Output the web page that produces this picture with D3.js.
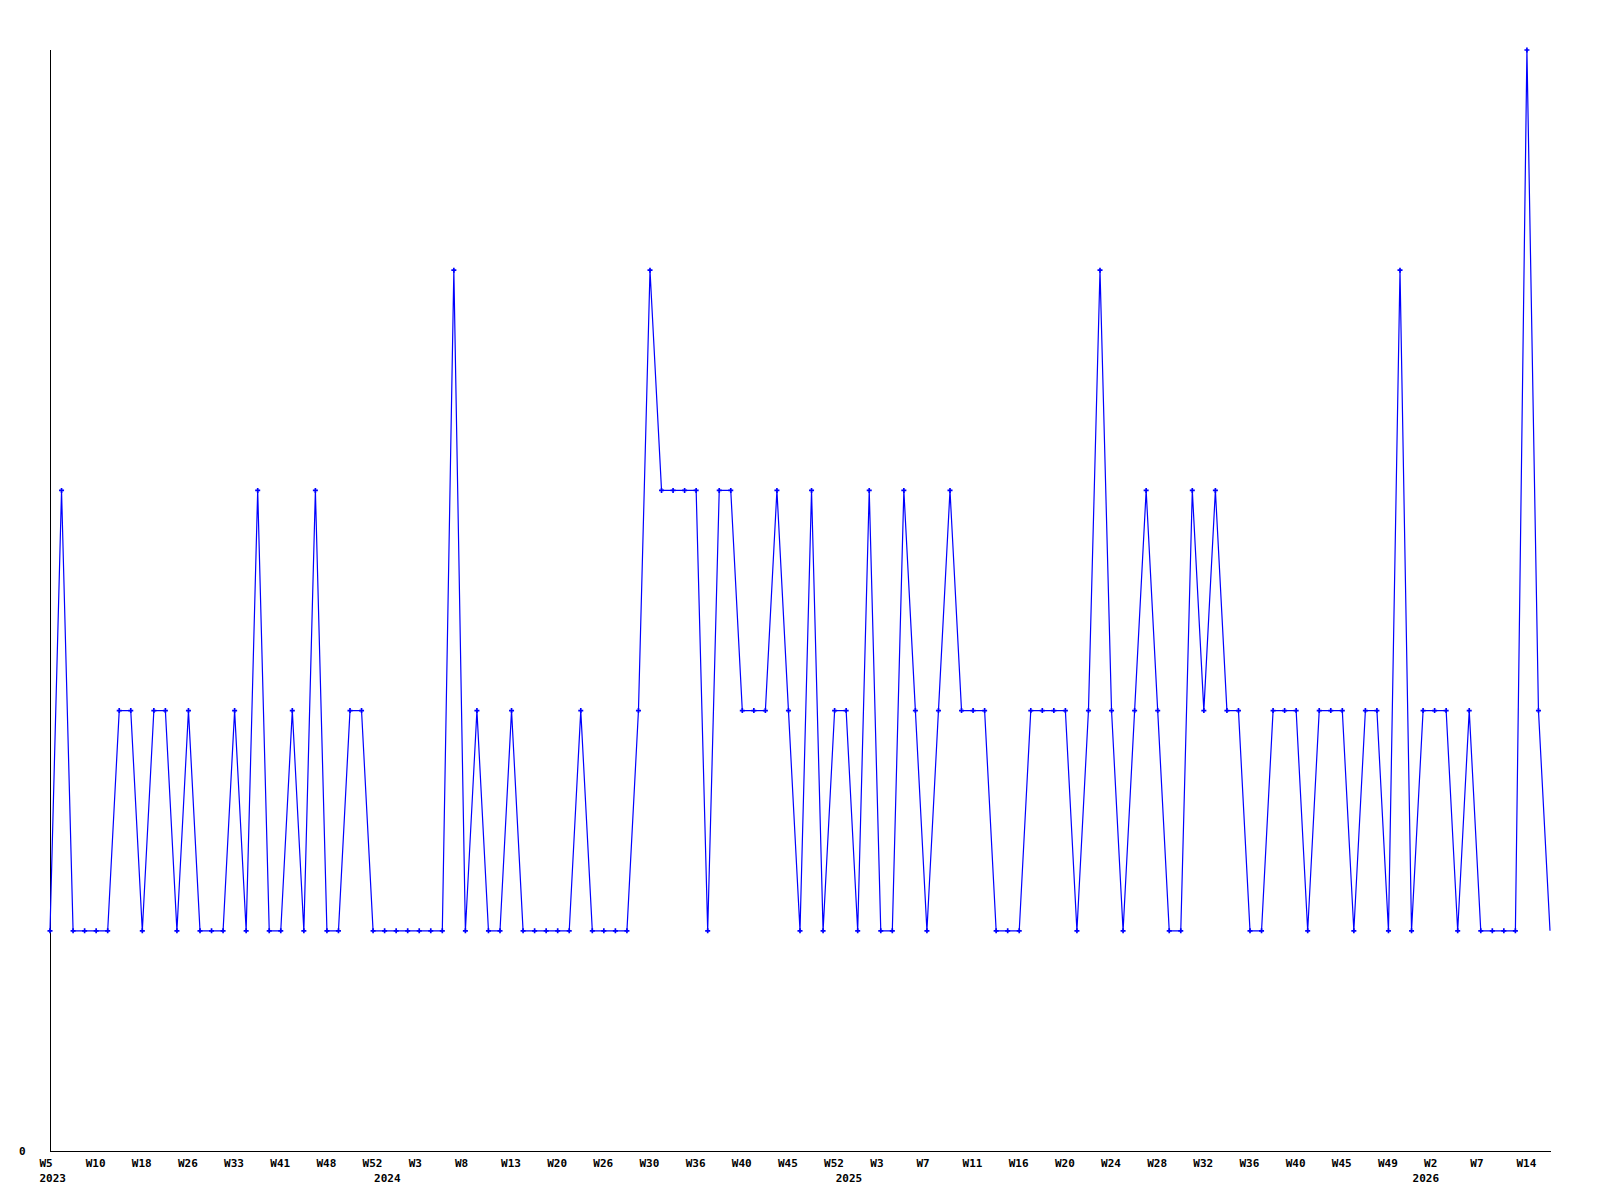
<!DOCTYPE html>
<html lang="en">
<head>
    <meta charset="UTF-8"/>
    <title>Weekly line chart</title>
    <script src="https://d3js.org/d3.v7.min.js"></script>
    <style>
        body { margin: 0; background: #ffffff; }
        svg { display: block; }
    </style>
</head>
<body>
    <script>
        var w = 1600;
        var h = 1200;

        // one value per point (levels 1..5)
        var values = [1,3,1,1,1,1,2,2,1,2, 2,1,2,1,1,1,2,1,3,1,
                      1,2,1,3,1,1,2,2,1,1, 1,1,1,1,1,4,1,2,1,1,
                      2,1,1,1,1,1,2,1,1,1, 1,2,4,3,3,3,3,1,3,3,
                      2,2,2,3,2,1,3,1,2,2, 1,3,1,1,3,2,1,2,3,2,
                      2,2,1,1,1,2,2,2,2,1, 2,4,2,1,2,3,2,1,1,3,
                      2,3,2,2,1,1,2,2,2,1, 2,2,2,1,2,2,1,4,1,2,
                      2,2,1,2,1,1,1,1,5,2, 1];

        // week labels, one on every 4th point
        var weekLabels = ["W5","W10","W18","W26","W33","W41","W48","W52","W3","W8",
                          "W13","W20","W26","W30","W36","W40","W45","W52","W3","W7",
                          "W11","W16","W20","W24","W28","W32","W36","W40","W45","W49",
                          "W2","W7","W14"];
        var labelStep = 4;

        // year labels and the point where each year starts
        var years = ["2023","2024","2025","2026"];
        var yearIndex = [0, 29, 69, 119];

        var yTicks = [0];

        var xScale = d3.scaleLinear()
                       .domain([0, values.length - 1])
                       .range([50, 1550]);

        var yScale = d3.scaleLinear()
                       .domain([0, 5])
                       .range([1151, 50]);

        var svg = d3.select("body")
                    .append("svg")
                    .attr("width", w)
                    .attr("height", h);

        svg.append("rect")
           .attr("width", w)
           .attr("height", h)
           .attr("fill", "#ffffff");

        var font = "'DejaVu Sans Mono', monospace";

        // x axis: week labels
        var xAxis = d3.axisBottom(xScale)
                      .tickValues(weekLabels.map(function(d, i){ return i * labelStep; }))
                      .tickFormat(function(d){ return weekLabels[d / labelStep]; })
                      .tickSize(0)
                      .tickSizeOuter(0);

        var gx = svg.append("g")
                    .attr("transform", "translate(0,1151)")
                    .call(xAxis);
        gx.select(".domain")
          .attr("d", "M50,0.5H1551")
          .attr("stroke", "#000")
          .attr("shape-rendering", "crispEdges");
        gx.selectAll("text")
          .attr("font-family", font)
          .attr("font-weight", "bold")
          .attr("font-size", "11px")
          .attr("fill", "#000")
          .attr("text-anchor", "start")
          .attr("dx", -11)
          .attr("dy", null)
          .attr("y", 16);

        // second row: years
        var yearAxis = d3.axisBottom(xScale)
                         .tickValues(yearIndex)
                         .tickFormat(function(d){ return years[yearIndex.indexOf(d)]; })
                         .tickSize(0);

        var gyear = svg.append("g")
                       .attr("transform", "translate(0,1151)")
                       .call(yearAxis);
        gyear.select(".domain").remove();
        gyear.selectAll("text")
             .attr("font-family", font)
             .attr("font-weight", "bold")
             .attr("font-size", "11px")
             .attr("fill", "#000")
             .attr("text-anchor", "start")
             .attr("dx", -11)
             .attr("dy", null)
             .attr("y", 31);

        // y axis with only the zero label
        var yAxis = d3.axisLeft(yScale)
                      .tickValues(yTicks)
                      .tickFormat(d3.format("d"))
                      .tickSize(0)
                      .tickSizeOuter(0);

        var gy = svg.append("g")
                    .attr("transform", "translate(50,0)")
                    .call(yAxis);
        gy.select(".domain")
          .attr("d", "M0.5,50V1151")
          .attr("stroke", "#000")
          .attr("shape-rendering", "crispEdges");
        gy.selectAll("text")
          .attr("font-family", font)
          .attr("font-weight", "bold")
          .attr("font-size", "11px")
          .attr("fill", "#000")
          .attr("text-anchor", "start")
          .attr("x", -31)
          .attr("dy", "0.32em");

        // the series line
        var line = d3.line()
                     .x(function(d, i){ return xScale(i); })
                     .y(function(d){ return yScale(d); });

        svg.append("path")
           .datum(values)
           .attr("d", line)
           .attr("fill", "none")
           .attr("stroke", "#0000ff")
           .attr("stroke-width", 1.2);

        // markers (the last point has none)
        svg.selectAll("path.mark")
           .data(values.slice(0, values.length - 1))
           .enter()
           .append("path")
           .attr("class", "mark")
           .attr("d", d3.symbol().type(d3.symbolCross).size(14))
           .attr("transform", function(d, i){
               return "translate(" + xScale(i) + "," + yScale(d) + ")";
           })
           .attr("fill", "#0000ff");
    </script>
</body>
</html>
